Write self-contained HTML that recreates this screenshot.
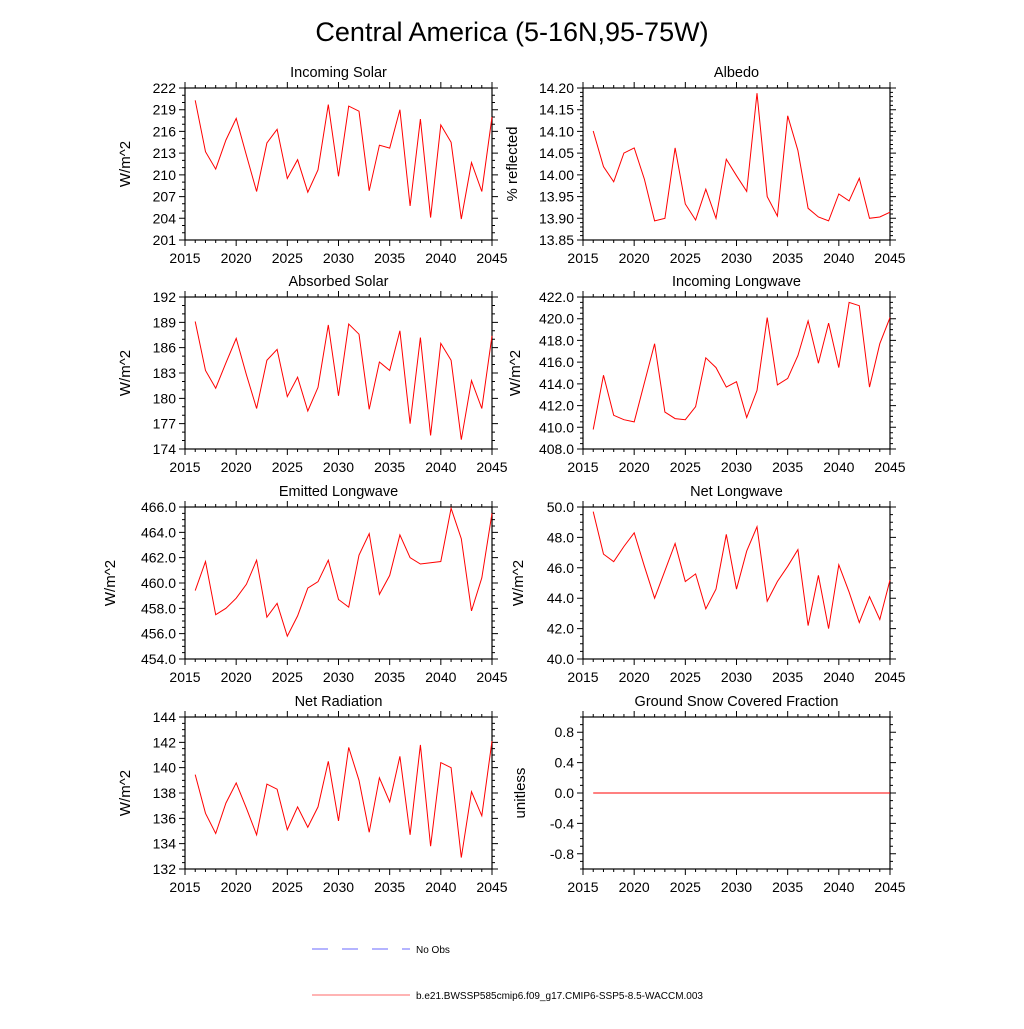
<!DOCTYPE html>
<html><head><meta charset="utf-8"><style>
body{margin:0;background:#fff;}
svg text{font-family:"Liberation Sans",Arial,sans-serif;fill:#000;}
</style></head><body>
<svg id="chart" width="1024" height="1024" xmlns="http://www.w3.org/2000/svg">
<text x="512" y="41" font-size="27" text-anchor="middle">Central America (5-16N,95-75W)</text>
<g>
<line x1="312" y1="949" x2="410" y2="949" stroke="#6a6aff" stroke-width="1" stroke-dasharray="16,14"/>
<text x="416" y="953" font-size="10">No Obs</text>
<line x1="312" y1="995" x2="410" y2="995" stroke="#ff6a6a" stroke-width="1"/>
<text x="416" y="999" font-size="10">b.e21.BWSSP585cmip6.f09_g17.CMIP6-SSP5-8.5-WACCM.003</text>
</g>
</svg>
<script>
const years = [2016,2017,2018,2019,2020,2021,2022,2023,2024,2025,2026,2027,2028,2029,2030,2031,2032,2033,2034,2035,2036,2037,2038,2039,2040,2041,2042,2043,2044,2045];
const xTicks = [2015,2020,2025,2030,2035,2040,2045];
const incomingSolar = [220.3,213.2,210.8,214.8,217.8,212.7,207.7,214.4,216.3,209.5,212.1,207.6,210.7,219.7,209.8,219.5,218.8,207.8,214.1,213.7,219.0,205.7,217.7,204.1,216.9,214.5,203.9,211.7,207.7,218.0];
const albedo = [14.101,14.019,13.984,14.050,14.062,13.990,13.894,13.900,14.062,13.933,13.896,13.967,13.900,14.036,13.998,13.962,14.188,13.950,13.905,14.136,14.056,13.923,13.903,13.894,13.956,13.940,13.992,13.900,13.903,13.914];
const absorbedSolar = [189.1,183.3,181.2,184.2,187.1,182.8,178.8,184.5,185.8,180.2,182.5,178.5,181.3,188.7,180.3,188.8,187.6,178.7,184.3,183.3,188.0,177.0,187.2,175.6,186.5,184.5,175.1,182.1,178.8,187.4];
const incomingLW = [409.8,414.8,411.1,410.7,410.5,414.1,417.7,411.4,410.8,410.7,411.9,416.4,415.5,413.7,414.2,410.9,413.4,420.1,413.9,414.5,416.6,419.8,415.9,419.6,415.5,421.5,421.2,413.7,417.7,420.1];
const emittedLW = [459.4,461.7,457.5,458.0,458.8,459.9,461.8,457.3,458.4,455.8,457.4,459.6,460.1,461.8,458.7,458.1,462.2,463.9,459.1,460.6,463.8,462.0,461.5,461.6,461.7,465.9,463.5,457.8,460.4,465.5];
const netLW = [49.7,46.9,46.4,47.4,48.3,46.1,44.0,45.8,47.6,45.1,45.6,43.3,44.6,48.2,44.6,47.1,48.7,43.8,45.1,46.1,47.2,42.2,45.5,42.0,46.2,44.4,42.4,44.1,42.6,45.2];
const netRad = [139.45,136.4,134.8,137.2,138.8,136.8,134.7,138.7,138.3,135.1,136.9,135.3,136.9,140.5,135.8,141.6,139.0,134.9,139.2,137.3,140.9,134.7,141.8,133.8,140.4,140.0,132.9,138.1,136.2,142.1];
const snowFrac = [0,0,0,0,0,0,0,0,0,0,0,0,0,0,0,0,0,0,0,0,0,0,0,0,0,0,0,0,0,0];
const yTicks1 = [201,204,207,210,213,216,219,222];
const yTicks2 = [13.85,13.90,13.95,14.00,14.05,14.10,14.15,14.20];
const yTicks3 = [174,177,180,183,186,189,192];
const yTicks4 = [408,410,412,414,416,418,420,422];
const yTicks5 = [454,456,458,460,462,464,466];
const yTicks6 = [40,42,44,46,48,50];
const yTicks7 = [132,134,136,138,140,142,144];
const yTicks8 = [-0.8,-0.4,0.0,0.4,0.8];

const NS='http://www.w3.org/2000/svg';
const svg=document.getElementById('chart');
function mk(tag,attrs,parent){const e=document.createElementNS(NS,tag);for(const k in attrs)e.setAttribute(k,attrs[k]);(parent||svg).appendChild(e);return e;}

const panels=[
 {key:'incoming-solar',title:'Incoming Solar',ylab:'W/m^2',ylx:130,x0:185,y0:88,vals:incomingSolar,ticks:yTicks1,ymin:201,ymax:222,minor:1,dec:0},
 {key:'albedo',title:'Albedo',ylab:'% reflected',ylx:517,x0:583,y0:88,vals:albedo,ticks:yTicks2,ymin:13.85,ymax:14.20,minor:0.01,dec:2},
 {key:'absorbed-solar',title:'Absorbed Solar',ylab:'W/m^2',ylx:130,x0:185,y0:297,vals:absorbedSolar,ticks:yTicks3,ymin:174,ymax:192,minor:1,dec:0},
 {key:'incoming-longwave',title:'Incoming Longwave',ylab:'W/m^2',ylx:520,x0:583,y0:297,vals:incomingLW,ticks:yTicks4,ymin:408,ymax:422,minor:0.5,dec:1},
 {key:'emitted-longwave',title:'Emitted Longwave',ylab:'W/m^2',ylx:115,x0:185,y0:507,vals:emittedLW,ticks:yTicks5,ymin:454,ymax:466,minor:0.5,dec:1},
 {key:'net-longwave',title:'Net Longwave',ylab:'W/m^2',ylx:523,x0:583,y0:507,vals:netLW,ticks:yTicks6,ymin:40,ymax:50,minor:0.5,dec:1},
 {key:'net-radiation',title:'Net Radiation',ylab:'W/m^2',ylx:130,x0:185,y0:717,vals:netRad,ticks:yTicks7,ymin:132,ymax:144,minor:0.5,dec:0},
 {key:'snow-fraction',title:'Ground Snow Covered Fraction',ylab:'unitless',ylx:525,x0:583,y0:717,vals:snowFrac,ticks:yTicks8,ymin:-1,ymax:1,minor:0.1,dec:1},
];
const W=307,H=152;
panels.forEach(p=>{
 const g=mk('g',{});
 
 
 const xs=v=>p.x0+(v-2015)/30*W;
 const ys=v=>p.y0+H-(v-p.ymin)/(p.ymax-p.ymin)*H;
 const box=mk('rect',{x:p.x0,y:p.y0,width:W,height:H,fill:'none',stroke:'#000','stroke-width':1.2},g);
 
 
 const t=mk('text',{x:p.x0+W/2,y:p.y0-11,'font-size':14.5,'text-anchor':'middle'},g);
 t.textContent=p.title;
 
 
 const yl=mk('text',{x:p.ylx,y:p.y0+H/2,'font-size':15,'text-anchor':'middle',transform:`rotate(-90 ${p.ylx} ${p.y0+H/2})`},g);
 yl.textContent=p.ylab;
 
 
 let d='';
 for(let yr=2015;yr<=2045;yr++){const x=xs(yr);const L=(yr%5==0)?6:3;d+=`M${x},${p.y0+H}v${L}M${x},${p.y0}v${-L}`;}
 const nm=Math.round((p.ymax-p.ymin)/p.minor);
 for(let i=0;i<=nm;i++){const v=p.ymin+i*p.minor;const y=ys(v);const maj=p.ticks.some(t=>Math.abs(t-v)<1e-6);const L=maj?6:3;d+=`M${p.x0},${y}h${-L}M${p.x0+W},${y}h${L}`;}
 const tk=mk('path',{d:d,stroke:'#000','stroke-width':1,fill:'none'},g);
 
 
 xTicks.forEach(v=>{const e=mk('text',{x:xs(v),y:p.y0+H+23,'font-size':14,'text-anchor':'middle'},g);e.textContent=v;
  
  });
 p.ticks.forEach(v=>{const e=mk('text',{x:p.x0-9,y:ys(v)+5,'font-size':14,'text-anchor':'end'},g);e.textContent=v.toFixed(p.dec);
  
  });
 const pts=years.map((yr,i)=>xs(yr).toFixed(1)+','+ys(p.vals[i]).toFixed(1)).join(' ');
 const ln=mk('polyline',{points:pts,fill:'none',stroke:'#ff0000','stroke-width':1},g);
 
 
});
</script>
</body></html>
